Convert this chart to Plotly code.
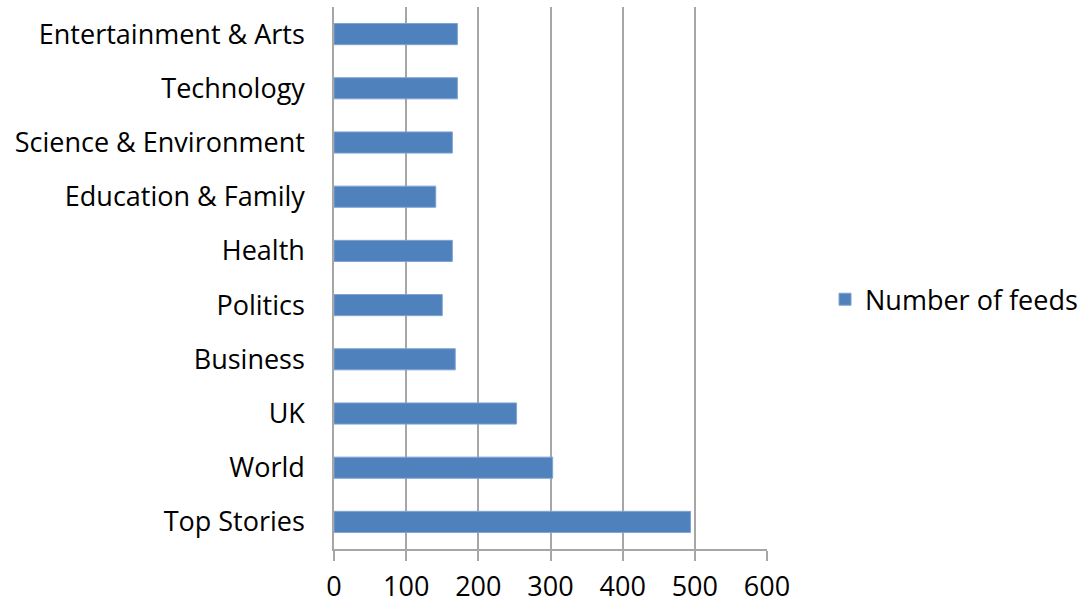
import plotly.graph_objects as go

categories = ["Top Stories", "World", "UK", "Business", "Politics", "Health",
              "Education & Family", "Science & Environment", "Technology",
              "Entertainment & Arts"]
feeds = [494, 303, 253, 168, 150, 164, 141, 164, 171, 171]
x_ticks = [0, 100, 200, 300, 400, 500, 600]

FONT = "Open Sans"
BAR = "#4f81bd"
GRID = "#a6a6a6"
SIZE = 27

fig = go.Figure()
fig.add_trace(go.Bar(
    x=feeds, y=categories, orientation="h", name="Number of feeds",
    marker=dict(color=BAR, line=dict(color="#7fa3d3", width=1)),
))

fig.update_layout(
    width=1087, height=608,
    margin=dict(l=334, r=320, t=7, b=59, autoexpand=False),
    paper_bgcolor="white", plot_bgcolor="white",
    font=dict(family=FONT, size=SIZE, color="#000000"),
    bargap=0.61,
    showlegend=True,
    legend=dict(x=1.134, y=0.46, xanchor="left", yanchor="middle",
                font=dict(family=FONT, size=SIZE), itemwidth=30,
                bgcolor="rgba(0,0,0,0)"),
    xaxis=dict(range=[0, 600], tickvals=x_ticks, showgrid=True,
               gridcolor=GRID, gridwidth=1.5, showline=True, linecolor=GRID,
               linewidth=1.5, ticks="outside", ticklen=10, tickcolor=GRID,
               tickwidth=1.5, zeroline=False, tickfont=dict(size=SIZE),
               ticklabelstandoff=3),
    yaxis=dict(showline=True, linecolor=GRID, linewidth=1.5, ticks="",
               ticklabelstandoff=22, showgrid=False, tickfont=dict(size=SIZE)),
)

fig.write_html("out.html")
